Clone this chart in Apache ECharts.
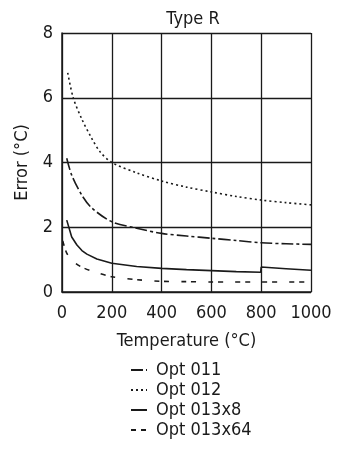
<!DOCTYPE html>
<html><head><meta charset="utf-8">
<script src="https://cdn.jsdelivr.net/npm/echarts@6/dist/echarts.min.js"></script>
<style>html,body{margin:0;padding:0;background:#fff}#c{width:340px;height:451px}</style>
</head><body><div id="c"></div>
<script>
var xTicks = [0, 200, 400, 600, 800, 1000];
var yTicks = [0, 2, 4, 6, 8];
var seriesNames = ['Opt 011', 'Opt 012', 'Opt 013x8', 'Opt 013x64'];

var opt011X = [19, 39, 79, 119, 200, 300, 400, 500, 600, 700, 800, 900, 1000];
var opt011Y = [4.13, 3.61, 3.0, 2.6, 2.17, 1.97, 1.81, 1.73, 1.66, 1.59, 1.52, 1.49, 1.47];

var opt012X = [23, 45, 79, 119, 153, 200, 300, 400, 500, 600, 700, 800, 900, 1000];
var opt012Y = [6.77, 6.0, 5.35, 4.75, 4.33, 4.0, 3.68, 3.43, 3.24, 3.09, 2.95, 2.84, 2.76, 2.69];

var opt013x8X = [19, 39, 60, 80, 100, 140, 200, 300, 400, 500, 600, 700, 798, 800, 900, 1000];
var opt013x8Y = [2.22, 1.70, 1.45, 1.28, 1.17, 1.02, 0.89, 0.79, 0.73, 0.69, 0.66, 0.63, 0.61, 0.77, 0.72, 0.67];

var opt013x64X = [3, 19, 40, 79, 139, 200, 300, 400, 500, 600, 800, 1000];
var opt013x64Y = [1.58, 1.2, 0.98, 0.77, 0.6, 0.47, 0.38, 0.33, 0.32, 0.31, 0.31, 0.31];

function pairs(xs, ys) { return xs.map(function (x, i) { return [x, ys[i]]; }); }

var FONT = '"Liberation Sans Narrow", "DejaVu Sans Condensed", "Roboto Condensed", sans-serif';
var INK = '#1a1a1a';

var chart = echarts.init(document.getElementById('c'), null, {renderer: 'canvas'});
function mk(name, xs, ys, dash, w, smooth) {
  return {
    name: name, type: 'line', data: pairs(xs, ys), smooth: smooth,
    showSymbol: false, symbol: 'none', color: INK,
    lineStyle: {color: INK, width: w, type: dash}
  };
}
chart.setOption({
  animation: false,
  color: [INK, INK, INK, INK],
  title: {text: 'Type R', left: 188, top: 5, textAlign: 'center',
    textStyle: {fontFamily: FONT, fontSize: 18, fontWeight: 'normal', color: INK}},
  grid: {left: 62, right: 29, top: 33, bottom: 159},
  xAxis: {
    type: 'value', min: xTicks[0], max: xTicks[xTicks.length - 1], interval: 200,
    name: 'Temperature (°C)', nameLocation: 'middle', nameGap: 40,
    nameTextStyle: {fontFamily: FONT, fontSize: 18, color: INK},
    axisLine: {lineStyle: {color: INK, width: 1.5}},
    axisTick: {show: false},
    axisLabel: {fontFamily: FONT, fontSize: 18, color: INK, margin: 12,
      formatter: function (v) { return String(v); }},
    splitLine: {show: true, lineStyle: {color: INK, width: 1.3}}
  },
  yAxis: {
    type: 'value', min: yTicks[0], max: yTicks[yTicks.length - 1], interval: 2,
    name: 'Error (°C)', nameLocation: 'middle', nameGap: 25,
    nameTextStyle: {fontFamily: FONT, fontSize: 18, color: INK},
    axisLine: {show: true, lineStyle: {color: INK, width: 1.5}},
    axisTick: {show: false},
    axisLabel: {fontFamily: FONT, fontSize: 18, color: INK, margin: 9},
    splitLine: {show: true, lineStyle: {color: INK, width: 1.3}}
  },
  legend: {
    orient: 'vertical', left: 130, top: 361, itemWidth: 16, itemHeight: 14, itemGap: 2,
    padding: 0,
    itemStyle: {color: 'rgba(0,0,0,0)', borderWidth: 0},
    textStyle: {fontFamily: FONT, fontSize: 18, lineHeight: 18, color: INK, padding: [0, 0, 0, 4]},
    data: seriesNames
  },
  series: [
    mk(seriesNames[0], opt011X, opt011Y, [12, 3, 3, 3], 1.6, 0.3),
    mk(seriesNames[1], opt012X, opt012Y, [2, 3], 1.6, 0.3),
    mk(seriesNames[2], opt013x8X, opt013x8Y, 'solid', 1.6, false),
    mk(seriesNames[3], opt013x64X, opt013x64Y, [5, 5, 5, 12], 1.6, 0.3)
  ]
});
</script></body></html>
